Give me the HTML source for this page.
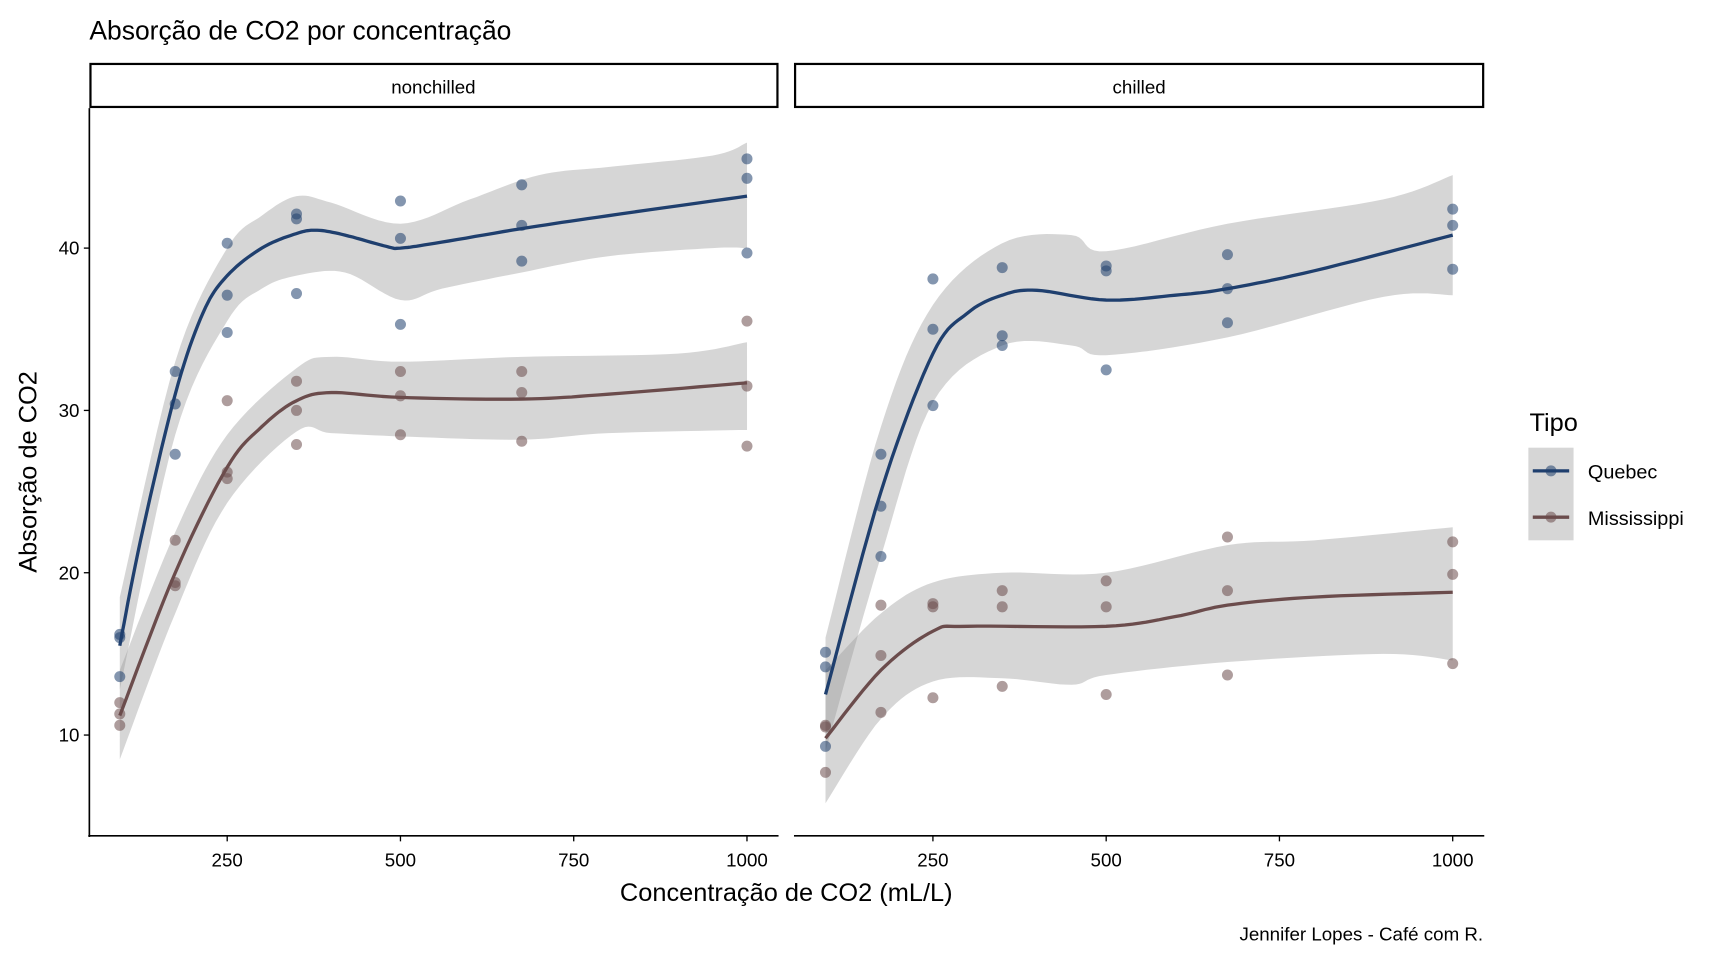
<!DOCTYPE html>
<html><head><meta charset="utf-8"><style>html,body{margin:0;padding:0;background:#fff}svg{display:block}text{font-family:"Liberation Sans",Arial,sans-serif;fill:#000}</style></head>
<body>
<svg id="s" width="1728" height="960" viewBox="0 0 1567 870.6" xmlns="http://www.w3.org/2000/svg">
<rect width="1567" height="870.6" fill="#fff"/>
<text x="81" y="36" font-size="24">Absorção de CO2 por concentração</text>
<rect x="82" y="58" width="623" height="39" fill="#fff" stroke="#000" stroke-width="2"/>
<text x="393" y="85" font-size="17" text-anchor="middle">nonchilled</text>
<rect x="721" y="58" width="624" height="39" fill="#fff" stroke="#000" stroke-width="2"/>
<text x="1033" y="85" font-size="17" text-anchor="middle">chilled</text>
<g id="plot"></g>
<line x1="81" y1="98" x2="81" y2="759" stroke="#000" stroke-width="1.5"/>
<line x1="80" y1="758" x2="706" y2="758" stroke="#000" stroke-width="1.5"/>
<line x1="720" y1="758" x2="1346" y2="758" stroke="#000" stroke-width="1.5"/>
<g id="ticks"></g>
<text x="713" y="817" font-size="23" text-anchor="middle">Concentração de CO2 (mL/L)</text>
<text transform="translate(33,428) rotate(-90)" font-size="23" text-anchor="middle">Absorção de CO2</text>
<text x="1345" y="853" font-size="17" text-anchor="end">Jennifer Lopes - Café com R.</text>
<text x="1387" y="391" font-size="23">Tipo</text>
<rect x="1386" y="406" width="41" height="84" fill="#d6d6d6"/>
<line x1="1390" y1="427" x2="1423" y2="427" stroke="#1f3f6e" stroke-width="3"/>
<circle cx="1406.5" cy="427" r="5" fill="#1f3f6e" fill-opacity="0.55"/>
<line x1="1390" y1="469" x2="1423" y2="469" stroke="#6b4c4c" stroke-width="3"/>
<circle cx="1406.5" cy="469" r="5" fill="#6b4c4c" fill-opacity="0.55"/>
<text x="1440" y="434" font-size="18">Quebec</text>
<text x="1440" y="476" font-size="18">Mississippi</text>
</svg>
<script>
const NS="http://www.w3.org/2000/svg";
const plot=document.getElementById('plot'),ticks=document.getElementById('ticks');
function el(t,a,p){const e=document.createElementNS(NS,t);for(const k in a)e.setAttribute(k,a[k]);(p||plot).appendChild(e);return e;}
const X0=[206,846];
function xs(p,v){return X0[p]+(v-250)*0.6285;}
function ys(v){return 225+(40-v)*14.72;}
function interp(pts){
  const out=[];
  for(let i=0;i<pts.length-1;i++){
    const p0=pts[Math.max(0,i-1)],p1=pts[i],p2=pts[i+1],p3=pts[Math.min(pts.length-1,i+2)];
    for(let t=0;t<1;t+=0.1){
      const t2=t*t,t3=t2*t;
      const f=(a,b,c,d)=>0.5*((2*b)+(-a+c)*t+(2*a-5*b+4*c-d)*t2+(-a+3*b-3*c+d)*t3);
      out.push([f(p0[0],p1[0],p2[0],p3[0]),f(p0[1],p1[1],p2[1],p3[1])]);
    }
  }
  out.push(pts[pts.length-1]);return out;
}
function conv(p,arr){const o=[];for(let i=0;i<arr.length;i+=2)o.push([xs(p,arr[i]),ys(arr[i+1])]);return o;}
function d(pts){return pts.map((q,i)=>(i?'L':'M')+q[0].toFixed(1)+' '+q[1].toFixed(1)).join(' ');}
const QC="#1f3f6e",MC="#6b4c4c";
const series=[
 {p:0,c:QC,line:[95,15.5,125,22,175,31,215,36,250,38.3,300,40,350,40.9,380,41.1,420,40.8,480,40.1,500,40,550,40.3,675,41.2,800,42,1000,43.2],
  up:[95,18.5,175,33,250,40,300,42,350,43.2,400,42.8,500,41.5,600,43,700,44.5,800,45,950,45.7,1000,46.5],
  lo:[95,12.8,175,28.5,250,35.5,300,37.5,350,38.3,420,38.5,500,36.8,560,37.5,675,38.5,800,39.5,950,40,1000,40],
  pts:[[16.0,30.4,34.8,37.2,35.3,39.2,39.7],[13.6,27.3,37.1,41.8,40.6,41.4,44.3],[16.2,32.4,40.3,42.1,42.9,43.9,45.5]]},
 {p:0,c:MC,line:[95,11.2,175,20,250,26.5,300,29,350,30.6,400,31.1,500,30.8,675,30.7,800,31,1000,31.7],
  up:[95,14,175,22.5,250,28.5,350,32.6,400,33.3,500,33,675,33.3,900,33.5,1000,34.2],
  lo:[95,8.5,175,17.5,250,24.3,350,28.7,400,28.6,500,28.4,675,28.2,800,28.6,1000,28.8],
  pts:[[10.6,19.2,26.2,30.0,30.9,32.4,35.5],[12.0,22.0,30.6,31.8,32.4,31.1,31.5],[11.3,19.4,25.8,27.9,28.5,28.1,27.8]]},
 {p:1,c:QC,line:[95,12.5,175,25,250,33.5,300,36,350,37.1,400,37.4,500,36.8,600,37.1,675,37.5,800,38.6,1000,40.8],
  up:[95,16,175,29,250,36.5,350,40.3,450,40.8,500,39.8,675,41.5,900,43,1000,44.5],
  lo:[95,9,175,21,250,30.5,350,34,450,34,500,33.4,675,34.5,900,37,1000,37.1],
  pts:[[14.2,24.1,30.3,34.6,32.5,35.4,38.7],[9.3,27.3,35.0,38.8,38.6,37.5,42.4],[15.1,21.0,38.1,34.0,38.9,39.6,41.4]]},
 {p:1,c:MC,line:[95,9.8,175,14,250,16.4,300,16.7,500,16.7,600,17.3,675,18,800,18.5,1000,18.8],
  up:[95,14,175,17.5,250,19.4,350,20,500,20,675,21.7,800,22,1000,22.8],
  lo:[95,5.8,175,11,250,13.3,350,13.5,450,13.1,500,13.7,675,14.5,900,15,1000,14.6],
  pts:[[10.5,14.9,18.1,18.9,19.5,22.2,21.9],[7.7,11.4,12.3,13.0,12.5,13.7,14.4],[10.6,18.0,17.9,17.9,17.9,18.9,19.9]]}
];
const conc=[95,175,250,350,500,675,1000];
for(const s of series){
  const u=interp(conv(s.p,s.up)),l=interp(conv(s.p,s.lo)).reverse();
  el('path',{d:d(u.concat(l))+'Z',fill:'#999','fill-opacity':0.4});
}
for(const s of series){
  for(const r of s.pts)r.forEach((v,i)=>el('circle',{cx:xs(s.p,conc[i]),cy:ys(v),r:5,fill:s.c,'fill-opacity':0.55}));
}
for(const s of series){
  el('path',{d:d(interp(conv(s.p,s.line))),fill:'none',stroke:s.c,'stroke-width':3});
}
for(const v of [10,20,30,40]){
  const y=ys(v);
  el('line',{x1:76,y1:y,x2:81,y2:y,stroke:'#000','stroke-width':1.2},ticks);
  const t=el('text',{x:72,y:y+6,'font-size':17,'text-anchor':'end'},ticks);t.textContent=v;
}
for(const p of [0,1])for(const v of [250,500,750,1000]){
  const x=xs(p,v);
  el('line',{x1:x,y1:758,x2:x,y2:763,stroke:'#000','stroke-width':1.2},ticks);
  const t=el('text',{x:x,y:786,'font-size':17,'text-anchor':'middle'},ticks);t.textContent=v;
}
</script>
</body></html>
